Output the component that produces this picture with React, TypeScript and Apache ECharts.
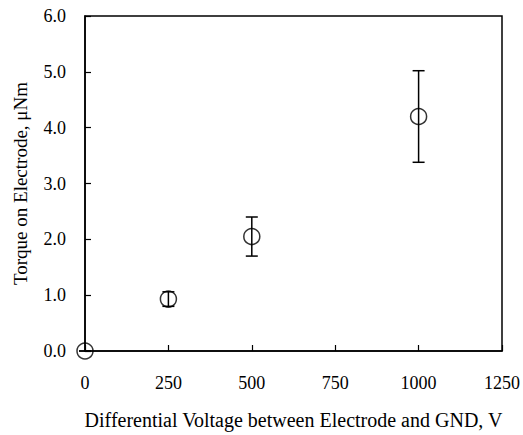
import React, { useEffect, useRef } from "react";
import * as echarts from "echarts";

const voltages = [0, 250, 500, 1000];
const torque = [0, 0.93, 2.05, 4.2];
const torqueErr = [0, 0.13, 0.35, 0.82];
const xTicks = { min: 0, max: 1250, interval: 250 };
const yTicks = { min: 0, max: 6, interval: 1 };
const xTitle = "Differential Voltage between Electrode and GND, V";
const yTitle = "Torque on Electrode, \u03bcNm";

const FONT = "'Liberation Serif', 'Times New Roman', serif";

export default function App() {
  const ref = useRef<HTMLDivElement>(null);
  useEffect(() => {
    if (!ref.current) return;
    const chart = echarts.init(ref.current, undefined, { renderer: "svg" });
    const points = voltages.map((v, i) => [v, torque[i]]);
    const errData = voltages.map((v, i) => [v, torque[i] - torqueErr[i], torque[i] + torqueErr[i]]);
    chart.setOption({
      animation: false,
      backgroundColor: "#fff",
      grid: {
        left: 85,
        right: 20,
        top: 16,
        bottom: 83,
        show: true,
        borderColor: "#000",
        borderWidth: 1.5,
        backgroundColor: "transparent",
      },
      xAxis: {
        type: "value",
        min: xTicks.min,
        max: xTicks.max,
        interval: xTicks.interval,
        name: xTitle,
        nameLocation: "middle",
        nameGap: 59,
        nameTextStyle: { fontFamily: FONT, fontSize: 20, color: "#000" },
        axisLine: { show: true, lineStyle: { color: "#000", width: 1.5 } },
        axisTick: { show: true, inside: true, length: 6, lineStyle: { color: "#000", width: 1.2 } },
        axisLabel: {
          fontFamily: FONT,
          fontSize: 18,
          color: "#000",
          margin: 23,
          formatter: (v: number) => String(v),
        },
        splitLine: { show: false },
      },
      yAxis: {
        type: "value",
        min: yTicks.min,
        max: yTicks.max,
        interval: yTicks.interval,
        name: yTitle,
        nameLocation: "middle",
        nameGap: 55,
        nameTextStyle: { fontFamily: FONT, fontSize: 19, color: "#000" },
        axisLine: { show: true, lineStyle: { color: "#000", width: 1.5 } },
        axisTick: { show: true, inside: true, length: 6, lineStyle: { color: "#000", width: 1.2 } },
        axisLabel: {
          fontFamily: FONT,
          fontSize: 18,
          color: "#000",
          margin: 19,
          formatter: (v: number) => v.toFixed(1),
        },
        splitLine: { show: false },
      },
      series: [
        {
          type: "custom",
          data: errData,
          z: 3,
          clip: false,
          renderItem: (params: any, api: any) => {
            const x = api.value(0);
            const lo = api.coord([x, api.value(1)]);
            const hi = api.coord([x, api.value(2)]);
            const w = 6;
            const style = { stroke: "#000", lineWidth: 1.5 };
            return {
              type: "group",
              children: [
                { type: "line", shape: { x1: lo[0], y1: lo[1], x2: hi[0], y2: hi[1] }, style },
                { type: "line", shape: { x1: lo[0] - w, y1: lo[1], x2: lo[0] + w, y2: lo[1] }, style },
                { type: "line", shape: { x1: hi[0] - w, y1: hi[1], x2: hi[0] + w, y2: hi[1] }, style },
              ],
            };
          },
        },
        {
          type: "scatter",
          data: points,
          symbol: "circle",
          symbolSize: 16,
          clip: false,
          z: 4,
          itemStyle: { color: "transparent", borderColor: "#000", borderWidth: 1.5 },
        },
      ],
    });
    return () => chart.dispose();
  }, []);
  return (
    <div
      ref={ref}
      style={{ position: "fixed", left: 0, top: 0, width: 523, height: 435 }}
    />
  );
}
